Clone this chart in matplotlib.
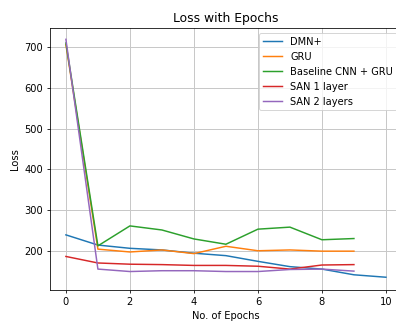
import matplotlib.pyplot as plt

epochs = list(range(11))
epochs9 = list(range(10))

dmn_plus = [239, 214, 206, 202, 194, 188, 174, 161, 155, 141, 135]
gru = [706, 204, 197, 202, 193, 211, 200, 202, 199, 199]
baseline = [710, 212, 261, 251, 229, 216, 253, 258, 227, 230]
san1 = [186, 170, 167, 166, 164, 164, 162, 155, 165, 166]
san2 = [719, 155, 149, 151, 151, 149, 149, 154, 155, 150]

fig = plt.figure(figsize=(396 / 71, 321 / 71), dpi=71)
ax = fig.add_axes([0.126, 0.097, 0.889, 0.816])

ax.plot(epochs, dmn_plus, label='DMN+')
ax.plot(epochs9, gru, label='GRU')
ax.plot(epochs9, baseline, label='Baseline CNN + GRU')
ax.plot(epochs9, san1, label='SAN 1 layer')
ax.plot(epochs9, san2, label='SAN 2 layers')

ax.set_xlim(-0.5, 10.5)
ax.set_ylim(104, 747)
ax.grid(True, color='#c8c8c8', linewidth=1.0)
ax.set_title('Loss with Epochs', fontsize=12.5)
ax.set_xlabel('No. of Epochs')
ax.set_ylabel('Loss')
ax.legend(loc='upper right')

fig.savefig('out.png', dpi=71)
